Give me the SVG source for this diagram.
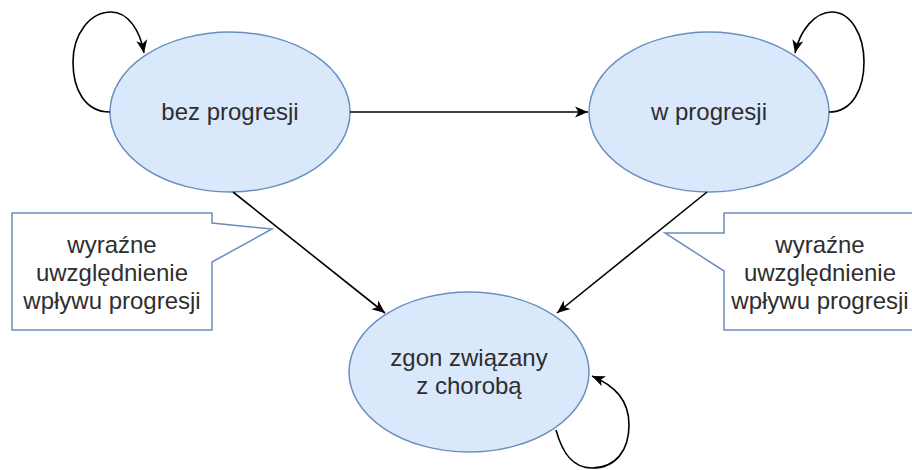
<svg xmlns="http://www.w3.org/2000/svg" width="912" height="470" viewBox="0 0 912 470">
<defs>
<style>
.state{fill:#dae8fc;stroke:#6c8ebf;stroke-width:1.5}
.callout{fill:#ffffff;stroke:#6c8ebf;stroke-width:1.5}
.lbl{font-family:"Liberation Sans",Arial,sans-serif;font-size:24px;fill:#2e2e2e;text-anchor:middle}
.edge{fill:none;stroke:#000000;stroke-width:1.6}
</style>
<marker id="arr" markerUnits="userSpaceOnUse" markerWidth="14" markerHeight="12" viewBox="0 0 14 12" refX="13" refY="6" orient="auto">
<path d="M0,0.5 L13,6 L0,11.5 L3.5,6 Z" fill="#000000"/>
</marker>
</defs>
<rect width="912" height="470" fill="#ffffff"/>
<g id="callout-left">
<path class="callout" d="M12,213 H212 V223 L272,229 L212,262 V330 H12 Z"/>
<text class="lbl" x="112" y="253">wyraźne</text>
<text class="lbl" x="112" y="281">uwzględnienie</text>
<text class="lbl" x="112" y="309">wpływu progresji</text>
</g>
<g id="callout-right">
<path class="callout" d="M724,213 H924 V330 H724 V271 L665,233 L724,233 Z"/>
<text class="lbl" x="820" y="253">wyraźne</text>
<text class="lbl" x="820" y="281">uwzględnienie</text>
<text class="lbl" x="820" y="309">wpływu progresji</text>
</g>
<g id="node-bez-progresji">
<ellipse class="state" cx="230" cy="112" rx="120" ry="80"/>
<text class="lbl" x="230" y="120">bez progresji</text>
</g>
<g id="node-w-progresji">
<ellipse class="state" cx="709" cy="112" rx="120" ry="80"/>
<text class="lbl" x="709" y="120">w progresji</text>
</g>
<g id="node-zgon">
<ellipse class="state" cx="469" cy="372" rx="120" ry="80"/>
<text class="lbl" x="469" y="366">zgon związany</text>
<text class="lbl" x="469" y="394">z chorobą</text>
</g>
<g id="connectors">
<path class="edge" d="M350,112 H588" marker-end="url(#arr)"/>
<path class="edge" d="M233,192 L385,313" marker-end="url(#arr)"/>
<path class="edge" d="M707,192 L557,313" marker-end="url(#arr)"/>
<path class="edge" d="M110,112 C84,112 73,88 73,62 C73,34 90,12 111,12 C128,12 140,30 144,53" marker-end="url(#arr)"/>
<path class="edge" d="M829,112 C853,112 864,88 864,62 C864,34 850,12 832,12 C815,12 800,30 795,53" marker-end="url(#arr)"/>
<path class="edge" d="M556,430 C562,452 572,468 592,468 C616,468 629,450 629,425 C629,400 615,386 592,376" marker-end="url(#arr)"/>
</g>
</svg>
